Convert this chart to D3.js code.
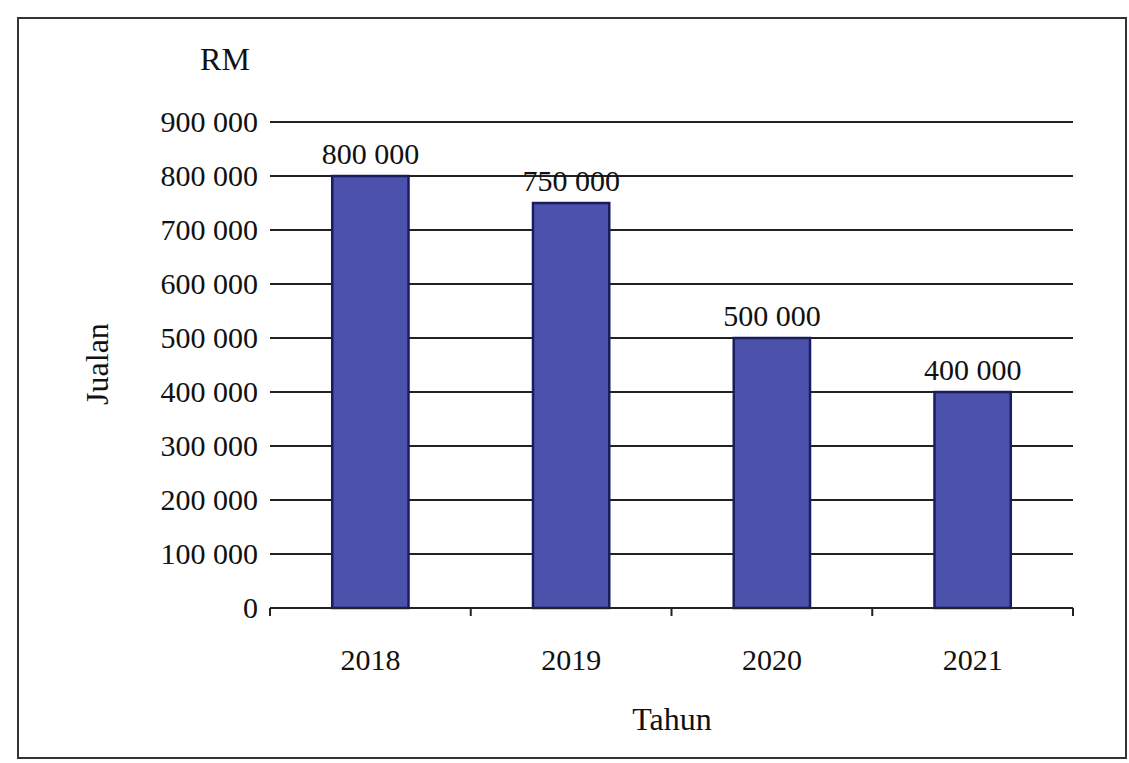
<!DOCTYPE html>
<html><head><meta charset="utf-8">
<script src="https://cdn.jsdelivr.net/npm/d3@7"></script>
<style>html,body{margin:0;padding:0;background:#fff;}svg{display:block;}</style>
</head><body>
<svg id="c" width="1129" height="763"></svg>
<script>
const categories = ["2018", "2019", "2020", "2021"];
const sales = [800000, 750000, 500000, 400000];
const yTicks = [0, 100000, 200000, 300000, 400000, 500000, 600000, 700000, 800000, 900000];
const yTickLabels = ["0", "100 000", "200 000", "300 000", "400 000", "500 000", "600 000", "700 000", "800 000", "900 000"];
const valueLabels = ["800 000", "750 000", "500 000", "400 000"];

(function () {
const svg = d3.select("#c");
const font = "'Liberation Serif', 'Times New Roman', serif";
const pLeft = 270, pRight = 1073, pTop = 122, pBottom = 608;

// frame
svg.append("rect").attr("x", 18).attr("y", 18).attr("width", 1108).attr("height", 740)
  .attr("fill", "#fff").attr("stroke", "#333").attr("stroke-width", 2);

const xCat = d3.scaleBand().domain(categories).range([pLeft, pRight]).padding(0);
const barW = xCat.bandwidth() * 0.38;
const cx = d => xCat(d) + xCat.bandwidth() / 2;
const y = d3.scaleLinear().domain([0, 900000]).range([pBottom, pTop]);

// gridlines
svg.append("g").selectAll("line").data(yTicks.filter(d => d > 0)).join("line")
  .attr("x1", pLeft).attr("x2", pRight)
  .attr("y1", d => y(d)).attr("y2", d => y(d))
  .attr("stroke", "#222").attr("stroke-width", 2);

// bars
svg.append("g").selectAll("rect").data(sales).join("rect")
  .attr("x", (d, i) => cx(categories[i]) - barW / 2)
  .attr("y", d => y(d))
  .attr("width", barW)
  .attr("height", d => y(0) - y(d))
  .attr("fill", "#4c52ab").attr("stroke", "#1b1c5e").attr("stroke-width", 2.5);

// value labels
svg.append("g").selectAll("text").data(sales).join("text")
  .attr("x", (d, i) => cx(categories[i]))
  .attr("y", d => y(d) - 12)
  .attr("text-anchor", "middle")
  .attr("font-family", font).attr("font-size", 30).attr("fill", "#111")
  .text((d, i) => valueLabels[i]);

// y axis labels
const yAxis = d3.axisLeft(y).tickValues(yTicks).tickSize(0).tickPadding(12)
  .tickFormat((d, i) => yTickLabels[i]);
const gy = svg.append("g").attr("transform", `translate(${pLeft},0)`).call(yAxis);
gy.select(".domain").remove();
gy.selectAll("text").attr("font-family", font).attr("font-size", 30).attr("fill", "#111");

// x axis
const bounds = categories.map(c => xCat(c)).concat([pRight]);
const gx = svg.append("g");
gx.append("line").attr("x1", pLeft).attr("x2", pRight).attr("y1", pBottom).attr("y2", pBottom)
  .attr("stroke", "#222").attr("stroke-width", 2);
gx.selectAll("line.tk").data(bounds).join("line").attr("class", "tk")
  .attr("x1", d => d).attr("x2", d => d).attr("y1", pBottom).attr("y2", pBottom + 8)
  .attr("stroke", "#222").attr("stroke-width", 2);
gx.selectAll("text").data(categories).join("text")
  .attr("x", d => cx(d))
  .attr("y", pBottom + 62)
  .attr("text-anchor", "middle")
  .attr("font-family", font).attr("font-size", 30).attr("fill", "#111")
  .text(d => d);

// axis titles
svg.append("text").attr("x", 225).attr("y", 70).attr("text-anchor", "middle")
  .attr("font-family", font).attr("font-size", 32).attr("fill", "#111").text("RM");
svg.append("text").attr("transform", "translate(108,364) rotate(-90)").attr("text-anchor", "middle")
  .attr("font-family", font).attr("font-size", 32).attr("fill", "#111").text("Jualan");
svg.append("text").attr("x", 672).attr("y", 730).attr("text-anchor", "middle")
  .attr("font-family", font).attr("font-size", 32).attr("fill", "#111").text("Tahun");
})();
</script>
</body></html>
